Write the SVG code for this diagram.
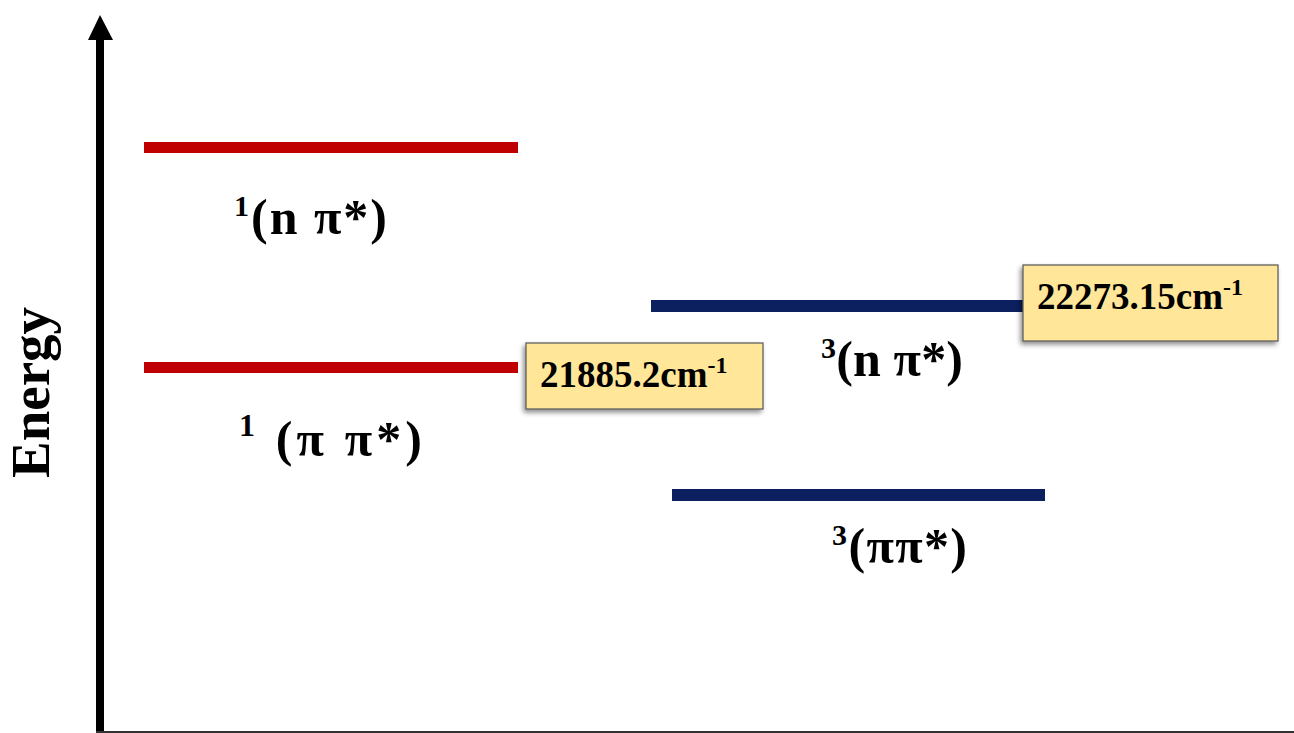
<svg xmlns="http://www.w3.org/2000/svg" width="1294" height="733" viewBox="0 0 1294 733">
  <defs>
    <filter id="shadow" x="-10%" y="-20%" width="130%" height="150%">
      <feGaussianBlur in="SourceAlpha" stdDeviation="2.5"/>
      <feOffset dx="-2" dy="3" result="b"/>
      <feComponentTransfer><feFuncA type="linear" slope="0.45"/></feComponentTransfer>
      <feMerge><feMergeNode/><feMergeNode in="SourceGraphic"/></feMerge>
    </filter>
  </defs>
  <style>
    text { font-family: "Liberation Serif", "Times New Roman", serif; font-weight: bold; fill: #000; }
    .single { fill: #C00000; }
    .triplet { fill: #0C1F5E; }
    .tag { fill: #FFE699; stroke: #555; stroke-width: 1.2; }
    .lab { font-size: 50px; }
    .val { font-size: 37px; }
  </style>
  <rect width="1294" height="733" fill="#fff"/>

  <!-- energy axis -->
  <g id="axis">
    <rect x="96" y="38" width="8" height="695" fill="#000"/>
    <polygon points="100,15 88,40 113,40" fill="#000"/>
    <line x1="96" y1="732" x2="1294" y2="732" stroke="#333" stroke-width="2"/>
    <text transform="translate(49,478) rotate(-90)" font-size="55">Energy</text>
  </g>

  <!-- singlet levels -->
  <g id="S_npi">
    <rect class="single" x="144" y="142" width="374" height="11"/>
    <text class="lab" x="234" y="234" textLength="153" lengthAdjust="spacing"><tspan font-size="30" dy="-18">1</tspan><tspan dy="18">(n π*)</tspan></text>
  </g>
  <g id="S_pipi">
    <rect class="single" x="144" y="362" width="374" height="11"/>
    <text class="lab" x="239" y="456" font-size="53" textLength="183" lengthAdjust="spacing"><tspan font-size="32" dy="-20">1</tspan><tspan dy="20"> (π π*)</tspan></text>
  </g>

  <!-- triplet levels -->
  <g id="T_npi">
    <rect class="triplet" x="651" y="300" width="373" height="12"/>
    <text class="lab" x="821" y="376" textLength="142" lengthAdjust="spacing"><tspan font-size="30" dy="-18">3</tspan><tspan dy="18">(n π*)</tspan></text>
  </g>
  <g id="T_pipi">
    <rect class="triplet" x="672" y="489" width="373" height="12"/>
    <text class="lab" x="832" y="563" textLength="135" lengthAdjust="spacing"><tspan font-size="30" dy="-18">3</tspan><tspan dy="18">(ππ*)</tspan></text>
  </g>

  <!-- energy values -->
  <g id="val_S">
    <rect class="tag" x="526" y="343" width="237" height="66" filter="url(#shadow)"/>
    <text class="val" x="540" y="387">21885.2cm<tspan font-size="24" dy="-14">-1</tspan></text>
  </g>
  <g id="val_T">
    <rect class="tag" x="1023" y="265" width="255" height="76" filter="url(#shadow)"/>
    <text class="val" x="1037" y="309">22273.15cm<tspan font-size="24" dy="-14">-1</tspan></text>
  </g>
</svg>
